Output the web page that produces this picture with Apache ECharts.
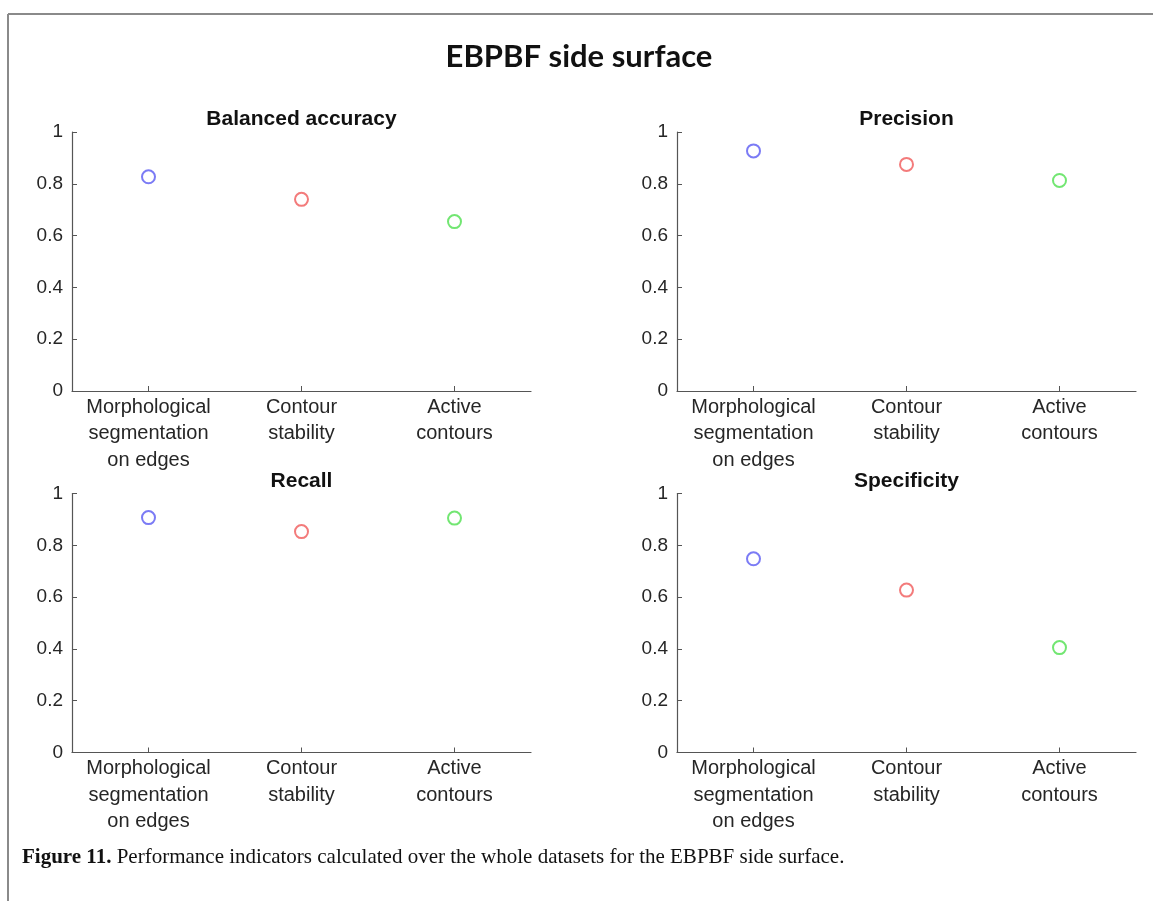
<!DOCTYPE html>
<html>
<head>
<meta charset="utf-8">
<style>
  html, body { margin: 0; padding: 0; background: #ffffff; }
  #chart { width: 1153px; height: 901px; }
</style>
<script src="https://cdn.jsdelivr.net/npm/echarts@6/dist/echarts.min.js"></script>
</head>
<body>
<div id="chart"></div>
<script>
// Methods compared in every panel
const categories = [
  'Morphological\nsegmentation\non edges',
  'Contour\nstability',
  'Active\ncontours'
];

// Panel titles and their indicator values (one per method)
const panelTitles = ['Balanced accuracy', 'Precision', 'Recall', 'Specificity'];
const balancedAccuracy = [0.827, 0.740, 0.654];
const precision = [0.927, 0.875, 0.813];
const recall = [0.907, 0.853, 0.905];
const specificity = [0.748, 0.627, 0.405];
const panelValues = [balancedAccuracy, precision, recall, specificity];

// Y tick positions
const yMin = 0, yMax = 1, yStep = 0.2;

// Marker colour per method
const methodColors = ['#5a5af2', '#f05a5a', '#4fe04f'];

const chart = echarts.init(document.getElementById('chart'), null, { renderer: 'canvas' });

const axisColor = '#262626';
const gridBoxes = [
  { left: 72, top: 132, width: 459, height: 259 },
  { left: 677, top: 132, width: 459, height: 259 },
  { left: 72, top: 493.5, width: 459, height: 259 },
  { left: 677, top: 493.5, width: 459, height: 259 }
];

const grids = gridBoxes.map(g => ({ left: g.left, top: g.top, width: g.width, height: g.height, containLabel: false }));

const xAxes = gridBoxes.map((g, i) => ({
  type: 'category',
  gridIndex: i,
  data: categories,
  boundaryGap: true,
  axisLine: { show: true, lineStyle: { color: '#555555', width: 1.2 } },
  axisTick: { show: true, inside: true, alignWithLabel: true, length: 5, lineStyle: { color: '#555555' } },
  axisLabel: {
    color: axisColor,
    fontFamily: 'Liberation Sans, Arial, sans-serif',
    fontSize: 20,
    lineHeight: 26.5,
    margin: 3,
    interval: 0,
    align: 'center',
    verticalAlign: 'top'
  },
  splitLine: { show: false }
}));

const yAxes = gridBoxes.map((g, i) => ({
  type: 'value',
  gridIndex: i,
  min: yMin,
  max: yMax,
  interval: yStep,
  axisLine: { show: true, lineStyle: { color: '#555555', width: 1.2 } },
  axisTick: { show: true, inside: true, length: 5, lineStyle: { color: '#555555' } },
  axisLabel: {
    color: axisColor,
    fontFamily: 'Liberation Sans, Arial, sans-serif',
    fontSize: 19,
    margin: 9
  },
  splitLine: { show: false }
}));

const titles = [
  {
    text: 'EBPBF side surface',
    left: 574,
    top: 36,
    textAlign: 'center',
    textStyle: { fontFamily: 'Lato, Open Sans, sans-serif', fontWeight: 'bold', fontSize: 31, color: '#111111' }
  }
].concat(gridBoxes.map((g, i) => ({
  text: panelTitles[i],
  left: g.left + g.width / 2 - 5,
  top: g.top - 28,
  textAlign: 'center',
  textStyle: { fontFamily: 'Liberation Sans, Arial, sans-serif', fontWeight: 'bold', fontSize: 21, color: '#111111' }
})));

const series = panelValues.map((vals, i) => ({
  type: 'scatter',
  xAxisIndex: i,
  yAxisIndex: i,
  symbol: 'emptyCircle',
  symbolSize: 13,
  silent: true,
  data: vals.map((v, k) => ({
    value: v,
    itemStyle: { color: methodColors[k], borderColor: methodColors[k], borderWidth: 1.6 }
  }))
}));

chart.setOption({
  backgroundColor: '#ffffff',
  animation: false,
  title: titles,
  grid: grids,
  xAxis: xAxes,
  yAxis: yAxes,
  series: series,
  graphic: [
    // figure frame (top and left edges)
    { type: 'line', shape: { x1: 8, y1: 14, x2: 1153, y2: 14 }, style: { stroke: '#8a8a8a', lineWidth: 2 } },
    { type: 'line', shape: { x1: 8, y1: 14, x2: 8, y2: 901 }, style: { stroke: '#8a8a8a', lineWidth: 2 } },
    // caption
    {
      type: 'text',
      left: 22,
      top: 847,
      style: {
        rich: {
          b: { fontFamily: 'Liberation Serif, Times New Roman, serif', fontWeight: 'bold', fontSize: 21, fill: '#111111' },
          r: { fontFamily: 'Liberation Serif, Times New Roman, serif', fontSize: 21, fill: '#111111' }
        },
        text: '{b|Figure 11.}{r| Performance indicators calculated over the whole datasets for the EBPBF side surface.}'
      }
    }
  ]
});
</script>
</body>
</html>
